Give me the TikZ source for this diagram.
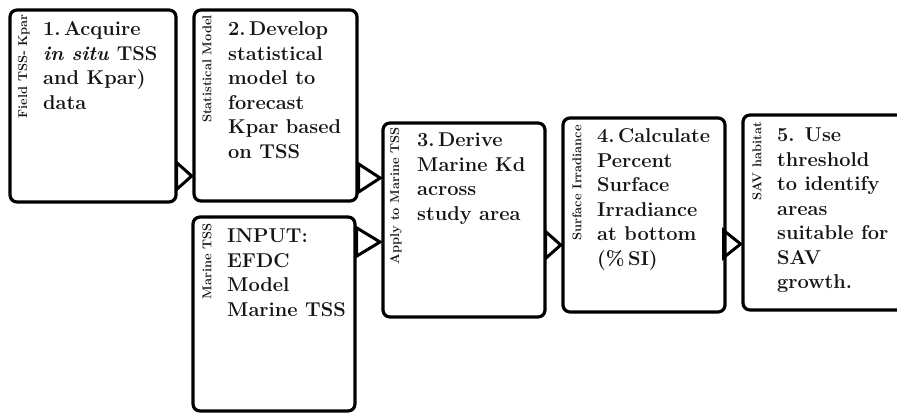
\documentclass[tikz,border=0pt]{standalone}
\usepackage{fontspec}
\usetikzlibrary{arrows.meta}
\definecolor{ink}{HTML}{151515}
\tikzset{
  box/.style={draw=black, line width=3.2pt, rounded corners=7pt, fill=white, outer sep=0pt, inner sep=0pt},
  lab/.style={font=\bfseries\fontsize{12.8}{14}\selectfont, text=ink, inner sep=0pt, rotate=90, anchor=east},
  body/.style={font=\bfseries\fontsize{20}{24.5}\selectfont, text=ink, inner sep=0pt, anchor=base west},
  conn/.style={draw=black, line width=3pt, -{Triangle[open, length=#1, width=33pt]}},
  conn/.default=18pt
}
\newcommand{\boxtext}[1]{\parbox[t]{150pt}{\raggedright #1}}
\begin{document}
\begin{tikzpicture}[x=1pt,y=-1pt]
\useasboundingbox (0,0) rectangle (897,414);
\clip (0,0) rectangle (897,414);
\fill[white] (0,0) rectangle (897,414);
% boxes
\node[box, minimum width=166pt, minimum height=192pt] (b1) at (93,106) {};
\node[box, minimum width=163pt, minimum height=191pt] (b2) at (275.5,105.5) {};
\node[box, minimum width=162pt, minimum height=194pt] (bm) at (274,314) {};
\node[box, minimum width=162pt, minimum height=194pt] (b3) at (464,220) {};
\node[box, minimum width=162pt, minimum height=194pt] (b4) at (644,215) {};
\node[box, minimum width=182pt, minimum height=195pt] (b5) at (834,212.5) {};
% side labels
\node[lab] (l1) at (24,14) {Field TSS- Kpar};
\node[lab] (l2) at (207,15) {Statistical Model};
\node[lab] (lm) at (207,223) {Marine TSS};
\node[lab] (l3) at (396,127) {Apply to Marine TSS};
\node[lab] (l4) at (577,125) {Surface Irradiance};
\node[lab] (l5) at (757,122) {SAV habitat};
% texts
\node[body] (t1) at (43,36) {\boxtext{1.\,Acquire\\ \textit{in situ} TSS\\ and Kpar)\\ data}};
\node[body] (t2) at (228,36) {\boxtext{2.\,Develop\\ statistical\\ model to\\ forecast\\ Kpar based\\ on TSS}};
\node[body] (tm) at (227,243) {\boxtext{INPUT:\\ EFDC\\ Model\\ Marine TSS}};
\node[body] (t3) at (417,147) {\boxtext{3.\,Derive\\ Marine Kd\\ across\\ study area}};
\node[body] (t4) at (597,143) {\boxtext{4.\,Calculate\\ Percent\\ Surface\\ Irradiance\\ at bottom\\ (\%\,SI)}};
\node[body] (t5) at (777,142) {\boxtext{5.\enspace Use\\ threshold\\ to identify\\ areas\\ suitable for\\ SAV\\ growth.}};
% connectors
\draw[conn=19pt] (b1.east |- 0,176) -- (b2.west |- 0,176);
\draw[conn=26pt] (b2.east |- 0,178) -- (b3.west |- 0,178);
\draw[conn=28pt] (bm.east |- 0,242) -- (b3.west |- 0,242);
\draw[conn=19pt] (b3.east |- 0,245) -- (b4.west |- 0,245);
\draw[conn=21pt] ([xshift=-3pt]b4.east |- 0,244) -- (b5.west |- 0,244);
\end{tikzpicture}
\end{document}
